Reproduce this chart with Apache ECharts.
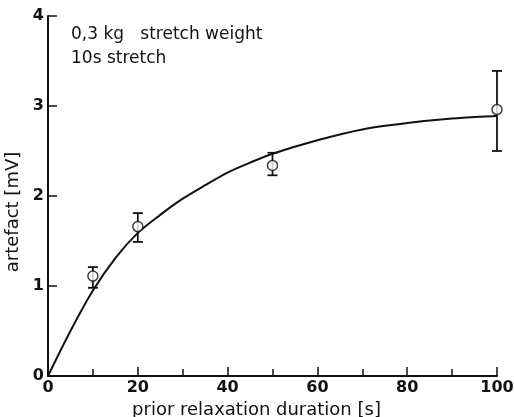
<!DOCTYPE html>
<html><head><meta charset="utf-8">
<script src="https://cdn.jsdelivr.net/npm/echarts@6/dist/echarts.min.js"></script>
<style>html,body{margin:0;padding:0;background:#fff}#c{width:514px;height:417px}</style>
</head><body><div id="c"></div>
<script>
// measured points (prior relaxation duration [s], artefact [mV])
const durations = [10, 20, 50, 100];
const means = [1.11, 1.66, 2.34, 2.96];
const errLow = [0.98, 1.49, 2.23, 2.50];
const errHigh = [1.21, 1.81, 2.48, 3.39];
// fitted curve
const curveX = [0, 5, 10, 15, 20, 25, 30, 35, 40, 45, 50, 60, 70, 80, 90, 100];
const curveY = [0, 0.5, 0.95, 1.31, 1.59, 1.79, 1.97, 2.12, 2.26, 2.37, 2.47, 2.62, 2.74, 2.81, 2.86, 2.89];
const xTicks = [0, 20, 40, 60, 80, 100];
const yTicks = [0, 1, 2, 3, 4];
const annotation = ['0,3 kg   stretch weight', '10s stretch'];

const font = 'DejaVu Sans';
const chart = echarts.init(document.getElementById('c'));
chart.setOption({
  animation: false,
  backgroundColor: '#fff',
  grid: { left: 48, right: 17, top: 16, bottom: 41, containLabel: false, outerBoundsMode: 'none' },
  title: {
    text: annotation.join('\n'),
    left: 66, top: 18,
    textStyle: { fontFamily: font, fontSize: 17, fontWeight: 'normal', color: '#111', lineHeight: 24 }
  },
  xAxis: {
    type: 'value', min: xTicks[0], max: xTicks[xTicks.length - 1], interval: 20,
    name: 'prior relaxation duration [s]', nameLocation: 'middle', nameGap: 19,
    nameTextStyle: { fontFamily: font, fontSize: 18, color: '#111', padding: [0, 32, 0, 0] },
    axisLine: { show: true, lineStyle: { color: '#111', width: 2 } },
    axisTick: { show: true, inside: true, length: 9, lineStyle: { color: '#111', width: 1.5 } },
    minorTick: { show: true, splitNumber: 2, length: 7, lineStyle: { color: '#111', width: 1.5 } },
    axisLabel: { fontFamily: font, fontSize: 16, fontWeight: 'bold', color: '#111', margin: 4 },
    splitLine: { show: false }
  },
  yAxis: {
    type: 'value', min: yTicks[0], max: yTicks[yTicks.length - 1], interval: 1,
    name: 'artefact [mV]', nameLocation: 'middle', nameGap: 22, nameRotate: 90,
    nameTextStyle: { fontFamily: font, fontSize: 18, color: '#111', padding: [0, 32, 0, 0] },
    axisLine: { show: true, lineStyle: { color: '#111', width: 2 } },
    axisTick: { show: true, inside: true, length: 9, lineStyle: { color: '#111', width: 1.5 } },
    axisLabel: { fontFamily: font, fontSize: 16, fontWeight: 'bold', color: '#111', margin: 4 },
    splitLine: { show: false }
  },
  series: [
    {
      type: 'line', data: curveX.map((x, i) => [x, curveY[i]]), smooth: 0.3,
      showSymbol: false, lineStyle: { color: '#111', width: 2 }, z: 2
    },
    {
      type: 'custom', z: 3,
      data: durations.map((x, i) => [x, errLow[i], errHigh[i]]),
      renderItem: function (params, api) {
        const x = api.value(0);
        const lo = api.coord([x, api.value(1)]);
        const hi = api.coord([x, api.value(2)]);
        const w = 5;
        const st = { stroke: '#111', lineWidth: 1.8 };
        return {
          type: 'group', children: [
            { type: 'line', shape: { x1: lo[0], y1: lo[1], x2: hi[0], y2: hi[1] }, style: st },
            { type: 'line', shape: { x1: lo[0] - w, y1: lo[1], x2: lo[0] + w, y2: lo[1] }, style: st },
            { type: 'line', shape: { x1: hi[0] - w, y1: hi[1], x2: hi[0] + w, y2: hi[1] }, style: st }
          ]
        };
      }
    },
    {
      type: 'scatter', z: 4, data: durations.map((x, i) => [x, means[i]]),
      symbol: 'circle', symbolSize: 10,
      itemStyle: { color: '#fff', borderColor: '#111', borderWidth: 1.5 }
    }
  ]
});
</script></body></html>
